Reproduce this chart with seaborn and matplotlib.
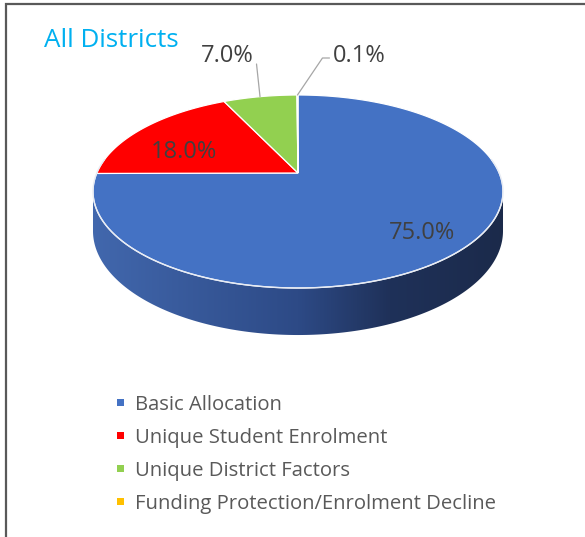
import numpy as np
import matplotlib
matplotlib.use("Agg")
import matplotlib.pyplot as plt
import seaborn as sns
from matplotlib.patches import Polygon, Rectangle
from matplotlib.colors import LinearSegmentedColormap

# ---------------- data ----------------
title = "All Districts"
categories = ["Basic Allocation", "Unique Student Enrolment",
              "Unique District Factors", "Funding Protection/Enrolment Decline"]
shares = [75.0, 18.0, 7.0, 0.1]
colors = ["#4472C4", "#FF0000", "#92D050", "#FFC000"]

# ---------------- style ----------------
sns.set_theme(style="white")
plt.rcParams['font.family'] = ['Open Sans', 'DejaVu Sans']
palette = sns.color_palette(colors)

fig = plt.figure(figsize=(5.85, 5.37), dpi=100)
ax = fig.add_axes([0, 0, 1, 1])

# perspective projection of the pie disc (clockwise angles from 12 o'clock)
CX, CY = 298.0, 173.0
ALPHA, BETA, C = 201.2, 92.96, -0.1917
H = 38.0


def proj(theta, r=1.0, depth=0.0):
    u = r * np.sin(theta)
    v = -r * np.cos(theta)
    w = 1 + C * v
    return CX + ALPHA * u / w, CY + (BETA * v + H * depth) / w


total = sum(shares)
edges = np.concatenate([[0], np.cumsum(shares)]) / total * 2 * np.pi

# ---- side (thickness) with gradient ----
t = np.linspace(0, 2 * np.pi, 721)
tx, ty = proj(t)
bx, by = proj(t, depth=1.0)
pts = np.vstack([np.column_stack([tx, ty]), np.column_stack([bx, by])])


def hull(p):
    p = p[np.lexsort((p[:, 1], p[:, 0]))]
    def cross(o, a, b):
        return (a[0]-o[0])*(b[1]-o[1]) - (a[1]-o[1])*(b[0]-o[0])
    lower, upper = [], []
    for q in p:
        while len(lower) >= 2 and cross(lower[-2], lower[-1], q) <= 0:
            lower.pop()
        lower.append(tuple(q))
    for q in p[::-1]:
        while len(upper) >= 2 and cross(upper[-2], upper[-1], q) <= 0:
            upper.pop()
        upper.append(tuple(q))
    return np.array(lower[:-1] + upper[:-1])


side = Polygon(hull(pts), closed=True, facecolor='none', edgecolor='none',
               transform=ax.transData)
ax.add_patch(side)
cmap = LinearSegmentedColormap.from_list(
    "side", [(0.0, "#4268AE"), (0.5, "#2D4A86"), (0.72, "#1F3159"), (1.0, "#1B2A4A")])
grad = np.linspace(0, 1, 256).reshape(1, -1)
im = ax.imshow(grad, cmap=cmap, extent=(88, 508, 345, 170), aspect='auto',
               interpolation='bilinear', zorder=1)
im.set_clip_path(side)

# ---- top face wedges ----
for i in range(len(shares)):
    n = max(int(400 * shares[i] / total) + 2, 3)
    tt = np.linspace(edges[i], edges[i + 1], n)
    xs, ys = proj(tt)
    poly = np.column_stack([np.r_[CX, xs], np.r_[CY, ys]])
    ax.add_patch(Polygon(poly, closed=True, facecolor=palette[i],
                         edgecolor='white', lw=0.9, zorder=2))

# front rim highlight
fr = np.linspace(np.pi / 2 - 0.15, 3 * np.pi / 2 + 0.15, 300)
fx, fy = proj(fr)
ax.plot(fx, fy, color='#E8ECF4', lw=1.0, zorder=3)

# ---- data labels ----
lab_color = '#404040'
labels = [f"{s:.1f}%" for s in shares]
mids = (edges[:-1] + edges[1:]) / 2
# inside labels
inside = {0: (0.78, 3.0), 1: (0.72, 12.0)}
for i, (r, dy) in inside.items():
    x, y = proj(mids[i], r=r)
    ax.text(x, y + dy, labels[i], ha='center', va='center', fontsize=17,
            color=lab_color, zorder=5)

# outside labels with leader lines
ax_, ay_ = proj(mids[2])
ax.plot([ax_, ax_ - 3.5], [ay_, 64], color='#A6A6A6', lw=0.9, zorder=4)
ax.text(ax_ - 33, 62, labels[2], ha='center', va='baseline', fontsize=17,
        color=lab_color, zorder=5)
bx_, by_ = proj(mids[3])
ax.plot([bx_, bx_ + 25, bx_ + 32], [by_, 58, 58], color='#A6A6A6', lw=0.9, zorder=4)
ax.text(bx_ + 35, 62, labels[3], ha='left', va='baseline', fontsize=17,
        color=lab_color, zorder=5)

# ---- title ----
ax.text(44, 47, title, ha='left', va='baseline', fontsize=18.7, color='#00B0F0')

# ---- legend ----
leg_base = [410, 443, 476, 509]
for i, cat in enumerate(categories):
    ax.add_patch(Rectangle((116.5, leg_base[i] - 11.5), 7, 7, facecolor=palette[i],
                           edgecolor='none'))
    ax.text(135, leg_base[i], cat, ha='left', va='baseline', fontsize=14.6,
            color='#595959')

# ---- frame ----
ax.plot([5.5, 5.5, 585], [537, 3.5, 3.5], color='#595959', lw=1.6,
        solid_joinstyle='miter', clip_on=False)

ax.set_xlim(0, 585)
ax.set_ylim(537, 0)
ax.axis('off')
fig.savefig("out.png", dpi=100)
